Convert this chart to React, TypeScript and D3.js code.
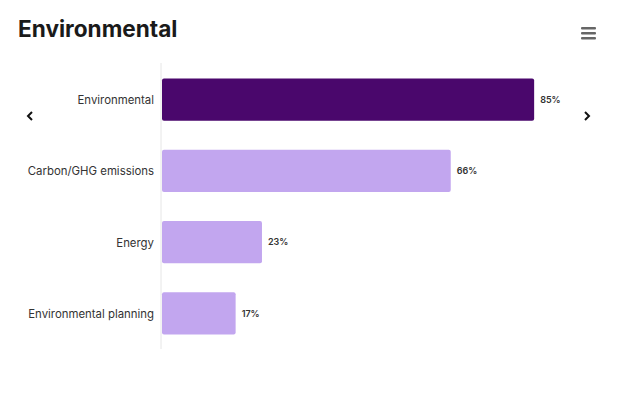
import React from "react";
import * as d3 from "d3";

const categories = ["Environmental", "Carbon/GHG emissions", "Energy", "Environmental planning"];
const values = [85, 66, 23, 17];
const highlight = ["Environmental"];
const title = "Environmental";

export default function App() {
  const W = 625, H = 398;
  const left = 161, right = 600, top = 64, bottom = 349;
  const x = d3.scaleLinear().domain([0, 100]).range([left, right]);
  const y = d3.scaleBand().domain(categories).range([top, bottom]).paddingInner(0.41).paddingOuter(0.205);
  const font = "Inter, 'Noto Sans', sans-serif";
  return (
    <svg width={W} height={H} style={{ position: "absolute", left: 0, top: 0, background: "#fff" }}>
      <text x={18} y={37} fontFamily={font} fontSize={22.6} fontWeight={700} fill="#1a1a1a">{title}</text>
      <g fill="#666">
        {[0, 1, 2].map(i => (
          <rect key={i} x={581} y={27 + i * 5} width={15} height={2.5} rx={1} />
        ))}
      </g>
      <line x1={left} x2={left} y1={top - 1} y2={bottom} stroke="#e6e6e6" strokeWidth={1} />
      {categories.map((c, i) => (
        <g key={c}>
          <rect x={x(0) + 1} y={y(c)} width={x(values[i]) - x(0) - 1} height={y.bandwidth()} rx={2}
            fill={highlight.includes(c) ? "#4a076c" : "#c2a6ef"} />
          <text x={left - 7} y={(y(c) as number) + y.bandwidth() / 2} dy="0.4em" textAnchor="end"
            fontFamily={font} fontSize={11.4} fill="#333">{c}</text>
          <text x={x(values[i]) + 6} y={(y(c) as number) + y.bandwidth() / 2} dy="0.35em"
            fontFamily={font} fontSize={9} fontWeight={600} fill="#333">{values[i] + "%"}</text>
        </g>
      ))}
      <path d="M32,112 L28,116 L32,120" fill="none" stroke="#111" strokeWidth={2} />
      <path d="M585,112 L589,116 L585,120" fill="none" stroke="#111" strokeWidth={2} />
    </svg>
  );
}
